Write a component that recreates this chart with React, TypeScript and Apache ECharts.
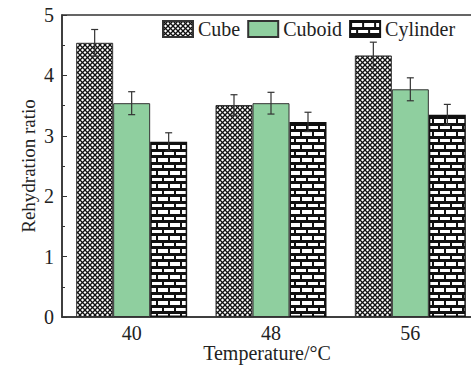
import React, { useEffect, useRef } from "react";
import * as echarts from "echarts";

const categories = ["40", "48", "56"];
const seriesNames = ["Cube", "Cuboid", "Cylinder"];
const cubeValues = [4.54, 3.51, 4.33];
const cuboidValues = [3.54, 3.54, 3.77];
const cylinderValues = [2.9, 3.23, 3.35];
const cubeErrors = [0.22, 0.17, 0.22];
const cuboidErrors = [0.19, 0.18, 0.19];
const cylinderErrors = [0.15, 0.16, 0.17];
const yTicks = [0, 1, 2, 3, 4, 5];

const FONT = "Liberation Serif";
const TEXT = "#222";
const AXIS = "#333";
const BAR_W = 37;

function makeCrossHatch() {
  const s = 5;
  const c = document.createElement("canvas");
  c.width = s;
  c.height = s;
  const ctx = c.getContext("2d")!;
  ctx.fillStyle = "#fff";
  ctx.fillRect(0, 0, s, s);
  ctx.strokeStyle = "#111";
  ctx.lineWidth = 1.25;
  for (const k of [-s, 0, s]) {
    ctx.beginPath();
    ctx.moveTo(k, 0);
    ctx.lineTo(k + s, s);
    ctx.stroke();
    ctx.beginPath();
    ctx.moveTo(k + s, 0);
    ctx.lineTo(k, s);
    ctx.stroke();
  }
  return { image: c, repeat: "repeat", imageWidth: s, imageHeight: s } as any;
}

function makeBrick() {
  const w = 12;
  const h = 13;
  const c = document.createElement("canvas");
  c.width = w;
  c.height = h;
  const ctx = c.getContext("2d")!;
  ctx.fillStyle = "#111";
  ctx.fillRect(0, 0, w, h);
  ctx.fillStyle = "#fff";
  ctx.fillRect(2, 2, 10, 4);
  ctx.fillRect(8, 9, 4, 3);
  ctx.fillRect(0, 9, 6, 3);
  return { image: c, repeat: "repeat", imageWidth: w, imageHeight: h } as any;
}

export default function App() {
  const ref = useRef<HTMLDivElement>(null);
  useEffect(() => {
    document.body.style.margin = "0";
    const chart = echarts.init(ref.current!, undefined, { renderer: "svg" });
    const values = [cubeValues, cuboidValues, cylinderValues];
    const errors = [cubeErrors, cuboidErrors, cylinderErrors];
    const fills = [makeCrossHatch(), "#8fcf9f", makeBrick()];
    const borders = [
      { c: "#333", w: 1 },
      { c: "#333", w: 1 },
      { c: "#111", w: 1.5 },
    ];
    const barSeries = seriesNames.map((name, i) => ({
      name,
      type: "bar",
      data: values[i],
      barWidth: BAR_W,
      barGap: "0%",
      itemStyle: { color: fills[i], borderColor: borders[i].c, borderWidth: borders[i].w },
      z: 2,
    }));
    const errSeries = seriesNames.map((name, i) => ({
      name: name + " error",
      type: "custom",
      z: 5,
      encode: { x: 0, y: 1 },
      data: values[i].map((v, j) => [j, v, errors[i][j]]),
      renderItem: (params: any, api: any) => {
        const idx = api.value(0);
        const v = api.value(1);
        const e = api.value(2);
        const x = api.coord([idx, v])[0] + (i - 1) * BAR_W;
        const yt = api.coord([idx, v + e])[1];
        const yb = api.coord([idx, v - e])[1];
        const cap = 3.5;
        const style = { stroke: AXIS, lineWidth: 1.2 };
        return {
          type: "group",
          children: [
            { type: "line", shape: { x1: x, y1: yt, x2: x, y2: yb }, style },
            { type: "line", shape: { x1: x - cap, y1: yt, x2: x + cap, y2: yt }, style },
            { type: "line", shape: { x1: x - cap, y1: yb, x2: x + cap, y2: yb }, style },
          ],
        };
      },
    }));
    chart.setOption({
      animation: false,
      backgroundColor: "#fff",
      textStyle: { fontFamily: FONT },
      grid: {
        left: 62,
        top: 15,
        width: 418,
        height: 302,
        outerBoundsMode: "none",
        containLabel: false,
        show: true,
        borderColor: AXIS,
        borderWidth: 1.5,
        backgroundColor: "transparent",
      },
      legend: {
        data: seriesNames,
        left: 162,
        top: 19,
        icon: "rect",
        itemWidth: 30,
        itemHeight: 16,
        itemGap: 7,
        padding: 0,
        textStyle: { fontFamily: FONT, fontSize: 20, color: TEXT },
      },
      xAxis: [
        {
          type: "category",
          data: categories,
          position: "bottom",
          name: "Temperature/°C",
          nameLocation: "middle",
          nameGap: 26,
          nameMoveOverlap: false,
          nameTextStyle: { fontFamily: FONT, fontSize: 20, color: TEXT, padding: [0, 8, 0, 0] },
          axisLine: { lineStyle: { color: AXIS, width: 1.5 } },
          axisTick: { alignWithLabel: true, inside: true, length: 5, lineStyle: { color: AXIS } },
          axisLabel: { fontFamily: FONT, fontSize: 20, color: TEXT, margin: 6 },
          splitLine: { show: false },
        },
        {
          type: "category",
          data: categories,
          position: "bottom",
          axisLine: { show: false },
          axisTick: { inside: true, length: 3, lineStyle: { color: AXIS } },
          axisLabel: { show: false },
          splitLine: { show: false },
        },
      ],
      yAxis: {
        type: "value",
        min: yTicks[0],
        max: yTicks[yTicks.length - 1],
        interval: 1,
        name: "Rehydration ratio",
        nameLocation: "middle",
        nameGap: 24,
        nameMoveOverlap: false,
        nameTextStyle: { fontFamily: FONT, fontSize: 19, color: TEXT },
        axisLine: { show: true, lineStyle: { color: AXIS, width: 1.5 } },
        axisTick: { show: true, inside: true, length: 5, lineStyle: { color: AXIS } },
        minorTick: { show: true, splitNumber: 2, length: 3, lineStyle: { color: AXIS } },
        axisLabel: { fontFamily: FONT, fontSize: 20, color: TEXT, margin: 8 },
        splitLine: { show: false },
      },
      series: [...barSeries, ...errSeries],
    });
    return () => chart.dispose();
  }, []);
  return <div ref={ref} style={{ width: 471, height: 367 }} />;
}
